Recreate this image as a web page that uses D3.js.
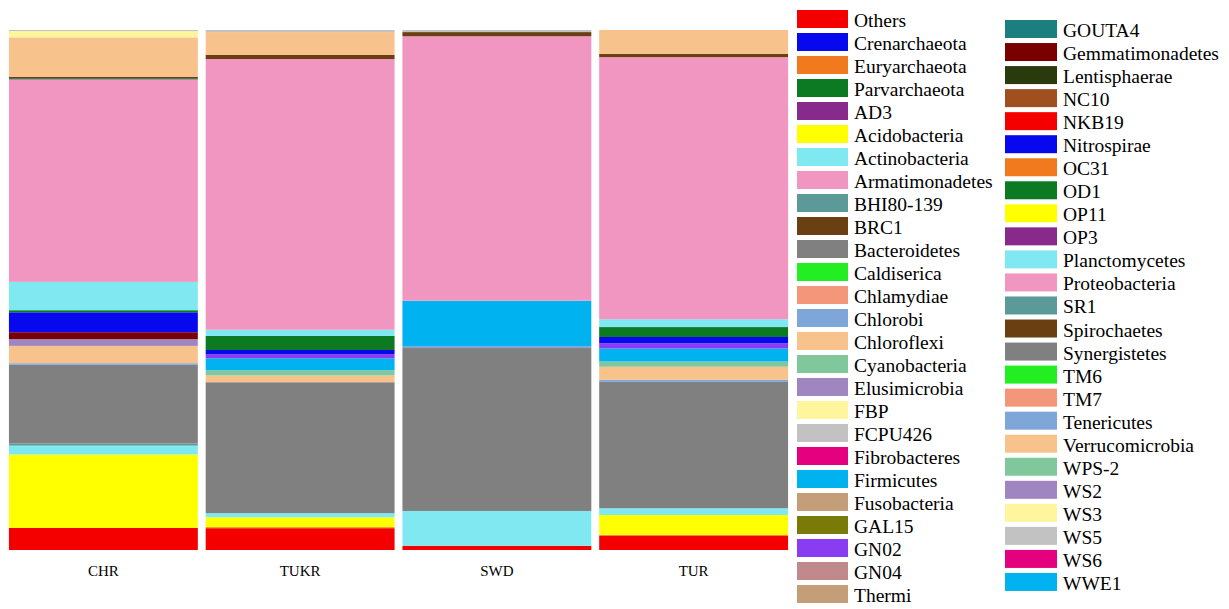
<!DOCTYPE html>
<html>
<head>
<meta charset="utf-8">
<script src="https://cdn.jsdelivr.net/npm/d3@7"></script>
<style>
body { margin: 0; background: #fff; }
</style>
</head>
<body>
<div id="chart"></div>
<script>
// sites (bars) and phyla (stack order, bottom -> top, same order as legend)
var sites = ["CHR", "TUKR", "SWD", "TUR"];

var phyla = ["Others", "Crenarchaeota", "Euryarchaeota", "Parvarchaeota", "AD3",
  "Acidobacteria", "Actinobacteria", "Armatimonadetes", "BHI80-139", "BRC1",
  "Bacteroidetes", "Caldiserica", "Chlamydiae", "Chlorobi", "Chloroflexi",
  "Cyanobacteria", "Elusimicrobia", "FBP", "FCPU426", "Fibrobacteres",
  "Firmicutes", "Fusobacteria", "GAL15", "GN02", "GN04", "Thermi",
  "GOUTA4", "Gemmatimonadetes", "Lentisphaerae", "NC10", "NKB19",
  "Nitrospirae", "OC31", "OD1", "OP11", "OP3", "Planctomycetes",
  "Proteobacteria", "SR1", "Spirochaetes", "Synergistetes", "TM6", "TM7",
  "Tenericutes", "Verrucomicrobia", "WPS-2", "WS2", "WS3", "WS5", "WS6", "WWE1"];

var phylaColors = ["#f50000", "#0808ee", "#f27a1e", "#0b7a22", "#872a8c",
  "#ffff00", "#80e8f0", "#f096c0", "#5b9a98", "#6a4012",
  "#808080", "#22ee22", "#f4967a", "#7fa6d8", "#f8c28c",
  "#80c89c", "#9f86c0", "#fff59c", "#c2c2c2", "#e4007e",
  "#00b2f0", "#c49e78", "#7a7a08", "#8a3cf2", "#c08a8c", "#c49e78",
  "#1b7f80", "#7a0000", "#2a3a0c", "#a0501e", "#f50000",
  "#0808ee", "#f27a1e", "#0b7a22", "#ffff00", "#872a8c", "#80e8f0",
  "#f096c0", "#5b9a98", "#6a4012", "#808080", "#22ee22", "#f4967a",
  "#7fa6d8", "#f8c28c", "#80c89c", "#9f86c0", "#fff59c", "#c2c2c2", "#e4007e", "#00b2f0"];

// relative abundance (%) per site, one value per phylum in the order above
var chr = [4.2, 0, 0, 0, 0,   14.0, 1.7, 0, 0.4, 0,   15.0, 0, 0, 0.3, 3.3,
  0, 1.3, 0, 0, 0,   0, 0, 0, 0, 0, 0,   0, 1.3, 0, 0, 0,
  3.8, 0, 0.4, 0, 0, 5.4,   38.5, 0.2, 0.4, 0, 0, 0,   0, 7.5, 0, 0, 1.2, 0.2, 0, 0];
var tukr = [4.2, 0, 0.2, 0, 0,   1.9, 0.8, 0, 0, 0,   25.2, 0, 0, 0, 1.3,
  1.0, 0, 0, 0, 0,   2.3, 0, 0, 0.8, 0, 0,   0, 0, 0, 0, 0,
  0.8, 0, 2.7, 0, 0, 1.2,   52.1, 0, 0.8, 0, 0, 0,   0, 4.4, 0, 0, 0, 0.4, 0, 0];
var swd = [0.8, 0, 0, 0, 0,   0, 6.7, 0, 0, 0,   31.3, 0, 0, 0.4, 0,
  0, 0, 0, 0, 0,   8.7, 0, 0, 0, 0, 0,   0, 0, 0, 0, 0,
  0, 0, 0, 0, 0, 0,   50.8, 0, 0.8, 0, 0, 0,   0, 0, 0, 0, 0, 0.4, 0, 0];
var tur = [2.7, 0, 0.2, 0, 0,   3.8, 1.3, 0, 0, 0,   24.2, 0, 0, 0.4, 2.5,
  1.0, 0, 0, 0, 0,   2.5, 0, 0, 1.0, 0, 0,   0, 0, 0, 0, 0,
  1.2, 0, 1.9, 0, 0, 1.5,   50.2, 0, 0.6, 0, 0, 0,   0, 4.6, 0, 0, 0, 0, 0, 0];

var siteValues = [chr, tukr, swd, tur];

var width = 1229, height = 609;

// build table for d3.stack
var data = sites.map(function (s, i) {
  var row = { site: s };
  phyla.forEach(function (p, j) { row[p] = siteValues[i][j]; });
  return row;
});

var svg = d3.select("#chart").append("svg")
  .attr("width", width)
  .attr("height", height)
  .style("font-family", "'Liberation Serif', 'Times New Roman', serif");

var x = d3.scaleBand().domain(sites).range([5, 792])
  .paddingInner(0.04).paddingOuter(0.02);
var y = d3.scaleLinear().domain([0, 1]).range([550, 30]);
var color = d3.scaleOrdinal().domain(phyla).range(phylaColors);

var series = d3.stack().keys(phyla).offset(d3.stackOffsetExpand)(data);

svg.append("g").selectAll("g")
  .data(series)
  .enter().append("g")
  .attr("fill", function (d) { return color(d.key); })
  .selectAll("rect")
  .data(function (d) { return d; })
  .enter().append("rect")
  .attr("x", function (d) { return x(d.data.site); })
  .attr("width", x.bandwidth())
  .attr("y", function (d) { return y(d[1]); })
  .attr("height", function (d) { return Math.max(0, y(d[0]) - y(d[1])); });

// site labels
var xAxis = svg.append("g")
  .attr("transform", "translate(0,550)")
  .call(d3.axisBottom(x).tickSize(0).tickPadding(15));
xAxis.select(".domain").remove();
xAxis.selectAll("text")
  .style("font-family", "'Liberation Serif', 'Times New Roman', serif")
  .style("font-size", "15px")
  .attr("fill", "#000");

// legend, two columns (26 + 25 entries)
var col1 = phyla.slice(0, 26), col2 = phyla.slice(26);

function drawLegend(items, x0, y0, step, sw) {
  var g = svg.append("g").attr("transform", "translate(" + x0 + "," + y0 + ")");
  var item = g.selectAll("g").data(items).enter().append("g")
    .attr("transform", function (d, i) { return "translate(0," + (i * step) + ")"; });
  item.append("rect")
    .attr("width", sw)
    .attr("height", 18)
    .attr("fill", function (d) { return color(d); });
  item.append("text")
    .attr("x", sw + 6)
    .attr("y", 17)
    .style("font-size", "19.5px")
    .attr("fill", "#000")
    .text(function (d) { return d; });
}

drawLegend(col1, 797, 10, 23.0, 51);
drawLegend(col2, 1005, 20, 23.04, 52);
</script>
</body>
</html>
